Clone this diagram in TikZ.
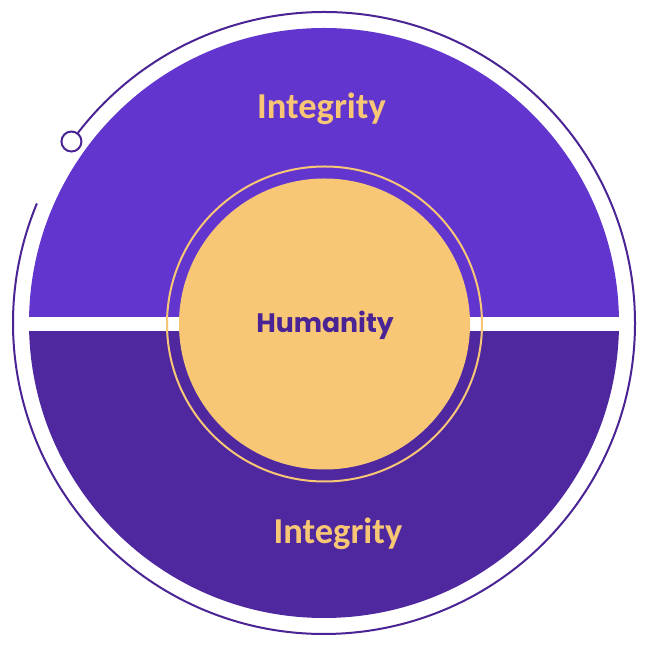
\documentclass[tikz,border=0pt]{standalone}
\usepackage{fontspec}
\setmainfont{Carlito}
\newfontfamily\popfont{Poppins}
\usepackage{tikz}
\usetikzlibrary{positioning,calc}
\definecolor{violetTop}{HTML}{6236CE}
\definecolor{violetBot}{HTML}{4F28A0}
\definecolor{violetLine}{HTML}{4A2394}
\definecolor{sand}{HTML}{F8C775}
\begin{document}
\begin{tikzpicture}[x=1pt, y=1pt,
  lbl/.style={text=sand, font=\fontsize{36.5}{38}\selectfont\bfseries, anchor=base, inner sep=0pt},
  core/.style={text=violetLine, font=\popfont\fontsize{26.7}{30}\selectfont\bfseries, anchor=base, inner sep=0pt}]
  \useasboundingbox (0,0) rectangle (649,650);
  \coordinate (c) at (324,327);
  \coordinate (m) at (324.5,326);
  % outer thin ring with the small knob
  \draw[violetLine, line width=2pt] (c) ++(142.3:311) arc[start angle=142.3, end angle=-202.6, radius=311];
  \draw[violetLine, line width=2pt] (c) ++(144.3:311) circle[radius=10];
  % two halves of the disk
  \fill[violetTop] (c) ++(0:295) arc[start angle=0, end angle=180, radius=295] -- cycle;
  \fill[violetBot] (c) ++(180:295) arc[start angle=180, end angle=360, radius=295] -- cycle;
  \fill[white] (20,319) rectangle (630,333);
  % middle circle
  \draw[sand, line width=2pt] (m) circle[radius=157.5];
  \fill[sand] (m) circle[radius=145.5];
  \node[lbl] (intTop) at (321.5,531) {Integrity};
  \node[lbl] (intBot) at (338,106) {Integrity};
  \node[core] (hum) at (325,317) {Humanity};
\end{tikzpicture}
\end{document}
